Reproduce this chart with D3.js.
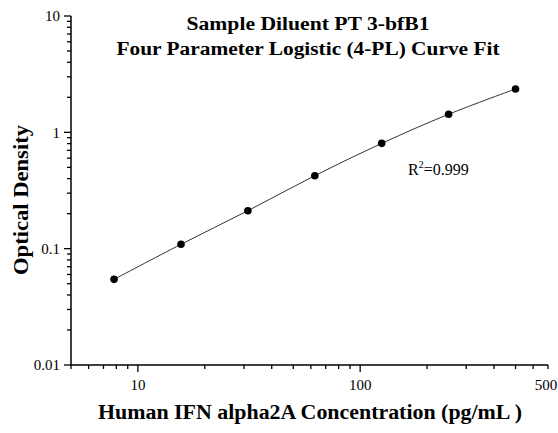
<!DOCTYPE html>
<html>
<head>
  <meta charset="utf-8">
  <script src="https://cdn.jsdelivr.net/npm/d3@7"></script>
  <style>
    body { margin: 0; background: #fff; }
    text { font-family: "Liberation Serif", "Times New Roman", serif; fill: #000; }
    .title { font-weight: bold; font-size: 18px; }
    .axis-title { font-weight: bold; font-size: 20px; }
    .tick-label { font-size: 15px; }
  </style>
</head>
<body>
<script>
  // standard concentrations (pg/mL) and mean OD
  var conc = [7.8125, 15.625, 31.25, 62.5, 125, 250, 500];
  var od = [0.0545, 0.109, 0.212, 0.424, 0.804, 1.43, 2.36];

  var titleLines = ["Sample Diluent PT 3-bfB1", "Four Parameter Logistic (4-PL) Curve Fit"];
  var xTitle = "Human IFN alpha2A Concentration (pg/mL )";
  var yTitle = "Optical Density";

  var xDomain = [5, 700];
  var yDomain = [0.01, 10];
  // x labels as printed (the "500" label sits at the axis end in the original)
  var xLabelValues = [10, 100, 685];
  var xLabelTexts = ["10", "100", "500"];
  var yMajor = [0.01, 0.1, 1, 10];
  var yLabelTexts = ["0.01", "0.1", "1", "10"];
  var xMinor = [5, 6, 7, 8, 9, 20, 30, 40, 50, 60, 70, 80, 90, 200, 300, 400, 500, 600, 700];
  var xMajorTicks = [10, 100];
  var yMinor = [0.02, 0.03, 0.04, 0.05, 0.06, 0.07, 0.08, 0.09,
                0.2, 0.3, 0.4, 0.5, 0.6, 0.7, 0.8, 0.9,
                2, 3, 4, 5, 6, 7, 8, 9];
  var rSquared = "0.999";

  var W = 558, H = 433;
  var margin = {left: 71, top: 16, right: 10, bottom: 68};
  var w = W - margin.left - margin.right,
      h = H - margin.top - margin.bottom;

  var svg = d3.select("body").append("svg")
      .attr("width", W)
      .attr("height", H);

  var g = svg.append("g")
      .attr("transform", "translate(" + margin.left + "," + margin.top + ")");

  var x = d3.scaleLog().domain(xDomain).range([0, w]);
  var y = d3.scaleLog().domain(yDomain).range([h, 0]);

  // x axis: line, major and minor ticks, labels
  var xg = g.append("g").attr("transform", "translate(0," + h + ")");
  xg.append("line")
    .attr("x1", 0).attr("x2", w)
    .attr("stroke", "#000").attr("stroke-width", 1.5);
  xg.selectAll(".xminor").data(xMinor).enter().append("line")
    .attr("x1", x).attr("x2", x)
    .attr("y1", 0).attr("y2", 4)
    .attr("stroke", "#000").attr("stroke-width", 1.3);
  xg.selectAll(".xmajor").data(xMajorTicks).enter().append("line")
    .attr("x1", x).attr("x2", x)
    .attr("y1", 0).attr("y2", 7)
    .attr("stroke", "#000").attr("stroke-width", 1.3);
  xg.selectAll(".xlab").data(xLabelValues).enter().append("text")
    .attr("class", "tick-label")
    .attr("x", x)
    .attr("y", 25)
    .attr("text-anchor", "middle")
    .text(function(d, i) { return xLabelTexts[i]; });

  // y axis
  var yg = g.append("g");
  yg.append("line")
    .attr("y1", 0).attr("y2", h)
    .attr("stroke", "#000").attr("stroke-width", 1.5);
  yg.selectAll(".yminor").data(yMinor).enter().append("line")
    .attr("y1", y).attr("y2", y)
    .attr("x1", 0).attr("x2", -4)
    .attr("stroke", "#000").attr("stroke-width", 1.3);
  yg.selectAll(".ymajor").data(yMajor).enter().append("line")
    .attr("y1", y).attr("y2", y)
    .attr("x1", 0).attr("x2", -7)
    .attr("stroke", "#000").attr("stroke-width", 1.3);
  yg.selectAll(".ylab").data(yMajor).enter().append("text")
    .attr("class", "tick-label")
    .attr("x", -11)
    .attr("y", y)
    .attr("dy", "0.35em")
    .attr("text-anchor", "end")
    .text(function(d, i) { return yLabelTexts[i]; });

  // fitted curve through the standards
  var pts = conc.map(function(c, i) { return [x(c), y(od[i])]; });
  g.append("path")
    .attr("d", d3.line().curve(d3.curveCatmullRom)(pts))
    .attr("fill", "none")
    .attr("stroke", "#333")
    .attr("stroke-width", 1);

  g.selectAll(".pt").data(pts).enter().append("circle")
    .attr("cx", function(d) { return d[0]; })
    .attr("cy", function(d) { return d[1]; })
    .attr("r", 3.8)
    .attr("fill", "#000");

  // R^2 annotation
  var rt = g.append("text")
    .attr("x", 337)
    .attr("y", 159)
    .attr("font-size", "16px");
  rt.append("tspan").text("R");
  rt.append("tspan").attr("font-size", "10px").attr("dy", "-7").text("2");
  rt.append("tspan").attr("dy", "7").text("=" + rSquared);

  // titles (the original lettering is a little wider than Liberation Serif)
  var titleWidths = [243, 383];
  svg.selectAll(".title").data(titleLines).enter().append("text")
    .attr("class", "title")
    .attr("x", 308)
    .attr("y", function(d, i) { return 30 + i * 25; })
    .attr("text-anchor", "middle")
    .attr("textLength", function(d, i) { return titleWidths[i]; })
    .attr("lengthAdjust", "spacingAndGlyphs")
    .text(function(d) { return d; });

  svg.append("text")
    .attr("class", "axis-title")
    .attr("x", 310)
    .attr("y", 419)
    .attr("text-anchor", "middle")
    .attr("textLength", 424)
    .attr("lengthAdjust", "spacingAndGlyphs")
    .text(xTitle);

  svg.append("text")
    .attr("class", "axis-title")
    .attr("transform", "translate(28,200) rotate(-90)")
    .attr("text-anchor", "middle")
    .attr("textLength", 150)
    .attr("lengthAdjust", "spacingAndGlyphs")
    .text(yTitle);
</script>
</body>
</html>
